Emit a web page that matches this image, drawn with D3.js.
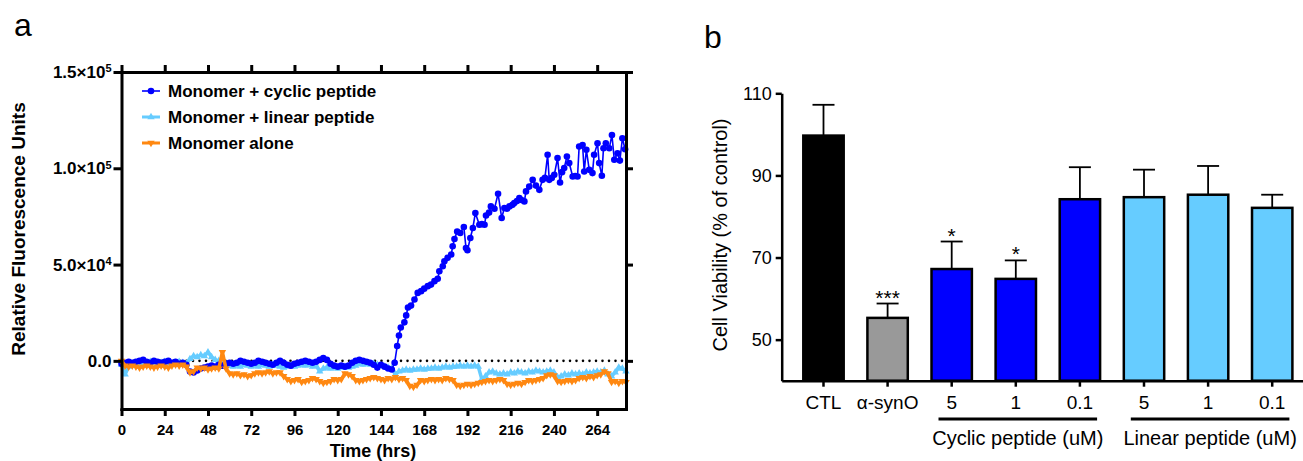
<!DOCTYPE html>
<html>
<head>
<meta charset="utf-8">
<script src="https://cdn.jsdelivr.net/npm/d3@7"></script>
<style>
  body { margin: 0; background: #fff; }
  text { font-family: Arial, "Liberation Sans", Helvetica, sans-serif; }
</style>
</head>
<body>
<script>
// ---------- panel a : fluorescence over time (values in 1000 RFU) ----------
const sampleHours = d3.range(0, 281, 2);

const linearValues = [
  -2, -7, -3, -1.5, -1, -2, -1, -1.5, -0.5, -1,
  -1.5, -1, -0.5, -1, -1.5, -1, -0.5, -1, -1.5, 1,
  2.5, 2, 3, 2.5, 4.5, 2, 0.5, 0, -1, -2,
  -2.5, -3, -2.5, -3, -2, -2.5, -3, -2.5, -3, -2,
  -2.5, -3, -2, -2.5, -3, -3.5, -3, -2.5, -3, -2.5,
  -2, -2.5, -2, -3, -2.5, -5.5, -4, -3.5, -4, -3.5,
  -4, -3.5, -3, -3.5, -3, -2.5, -1.5, -2, -1.5, -2,
  -1.5, -2, -2.5, -3, -3.5, -4, -7, -5.5, -5, -4.5,
  -5, -4.5, -4.5, -4, -4.5, -4, -4, -3.5, -4, -3.5,
  -3, -3.5, -3, -3, -2.5, -3, -2.5, -3, -2.5, -3,
  -9.5, -8, -6, -5.5, -6.5, -7, -6.5, -7, -6, -6.5,
  -5.5, -6, -6.5, -5.5, -6, -5, -5.5, -6, -5.5, -5,
  -6, -8.5, -8, -7, -7.5, -6.5, -7, -6.5, -7, -6,
  -6.5, -6, -5.5, -6, -5, -7, -8, -6, -3.5, -4,
  -5.5
];

const aloneValues = [
  0, -2.5, -3, -2.5, -3, -3.5, -3, -2.5, -3, -3.5,
  -3, -2.5, -3, -3.5, -2.5, -2, -2.5, -2, -3, -6,
  -5.5, -3.5, -4, -3.5, -4.5, -4, -3.5, -4, 4.5, -4,
  -6.5, -7, -6.5, -7.5, -7, -8, -7.5, -6.5, -6, -6.5,
  -6, -5.5, -6.5, -6, -6, -8, -9.5, -10.5, -10, -9.5,
  -11, -10.5, -10, -9, -9.5, -10.5, -11.5, -11, -10.5, -9.5,
  -10, -9.5, -6.5, -7, -8, -10, -10.5, -10, -9.5, -9,
  -8.5, -9, -9.5, -10, -9, -9.5, -8.5, -9.5, -9, -10,
  -13, -13.5, -12.5, -10, -10.5, -10, -9.5, -10, -9.5, -10,
  -9, -9.5, -10, -12.5, -13, -12.5, -12, -12.5, -12, -11.5,
  -11, -10.5, -10, -10.5, -10, -9.5, -10, -12, -12.5, -12,
  -11.5, -12, -11, -10, -10.5, -10, -9.5, -9, -7.5, -7,
  -7.5, -10.5, -11, -10.5, -10, -10.5, -10, -9, -8.5, -9,
  -8, -8.5, -7.5, -7, -5.5, -6.5, -11, -10.5, -11.5, -10.5,
  -11
];

// cyclic peptide: every 2 h up to 150 h, then the individual readings of the rise
const cyclicHours = d3.range(0, 151, 2).concat([
  151.6, 153, 154, 155, 157, 158, 159, 160.7, 162.6, 164.4,
  166.3, 168, 170, 171.8, 173.7, 175.5, 176.4, 178.3, 179.2, 181,
  183, 183.8, 184.8, 186.3, 188, 190, 191.2, 192, 193.6, 195,
  196.4, 198.6, 200, 201.5, 202.3, 204, 205, 207, 209, 211,
  212.5, 214, 215.3, 217, 218, 219.5, 220.8, 222, 223.6, 224.5,
  226.3, 228.2, 230, 231.9, 233.7, 235, 236.5, 237.4, 238.8, 240.2,
  242, 243.4, 244.5, 245.7, 247.2, 248.5, 250.4, 251.8, 253.1, 254,
  255.9, 256.8, 258, 259.6, 261.4, 262.3, 264.2, 265.1, 266.6, 267.5,
  268.8, 270.7, 272.2, 273.5, 275.3, 276.6, 278, 279.5
]);
const cyclicValues = [
  -1.5, -1, -0.5, -1, -0.5, 0, 0.5, -0.5, -1, 0,
  -0.5, -1, -0.5, 0, -1, -0.5, -1.5, -1, -2, -5.5,
  -6, -5, -4, -3.5, -3, -2.5, -3, -2, -2.5, -1.5,
  -1, -1.5, -1, 0, -0.5, -1, -1.5, -1, 0, -0.5,
  -1, -1.5, -2, -1, 0, -1, -2, -2.5, -1.5, -1,
  -0.5, 0, -0.5, -1, -0.5, 0.5, 1.5, 0.5, -1.5, -2.5,
  -3, -2.5, -3, -2.5, -1, 0, 0.5, 0, -0.5, -1,
  -2, -3.5, -2, -3, -4, -4.5,
  -1, 7.7, 13.2, 17.3, 20, 23.6, 27.7, 28.7, 31.9, 35.3,
  36.2, 37.5, 38.8, 39.6, 41.4, 42.6, 46.5, 49.1, 51.7, 53.5,
  55.2, 59.5, 63.3, 67.2, 66.4, 69.5, 58.6, 57.4, 63.8, 69,
  76.8, 70.7, 71, 70.7, 75.5, 77, 80.2, 79, 86.8, 74.2,
  79.4, 79, 80.2, 81, 82, 83, 84.5, 83.5, 82.8, 88,
  90.5, 94, 91, 88.8, 94, 95, 107, 94, 95, 96.6,
  105.3, 92.6, 98, 100.1, 106.1, 102.7, 95.7, 96, 95.7, 111.3,
  112.1, 98.3, 109.6, 99.2, 97.5, 107, 113, 102.7, 96.1, 110.4,
  113, 110.4, 117.3, 104.4, 107.8, 104, 115.6, 109.9
];

const seriesNames = ["Monomer + cyclic peptide", "Monomer + linear peptide", "Monomer alone"];
const seriesColors = ["#0000ff", "#66ccff", "#ff8811"];
const timeTicks = [0, 24, 48, 72, 96, 120, 144, 168, 192, 216, 240, 264];
const rfuTicks = [0, 50, 100, 150];
const rfuTickLabels = [["0.0", ""], ["5.0×10", "4"], ["1.0×10", "5"], ["1.5×10", "5"]];

// ---------- panel b : cell viability ----------
const groups = ["CTL", "aSynO", "C5", "C1", "C01", "L5", "L1", "L01"];
const groupLabels = ["CTL", "α-synO", "5", "1", "0.1", "5", "1", "0.1"];
const viability = [99.7, 55.3, 67.2, 64.8, 84.2, 84.7, 85.3, 82.1];
const viabilityErr = [7.5, 3.5, 6.7, 4.5, 7.8, 6.7, 7.0, 3.2];
const barColors = ["#000000", "#999999", "#0000ff", "#0000ff", "#0000ff", "#66ccff", "#66ccff", "#66ccff"];
const stars = ["", "***", "*", "*", "", "", "", ""];
const viabilityTicks = [50, 70, 90, 110];
const peptideGroups = [
  {label: "Cyclic peptide (uM)", first: "C5", last: "C01"},
  {label: "Linear peptide (uM)", first: "L5", last: "L01"}
];

const width = 1303;
const height = 461;

const svg = d3.select('body').append('svg')
    .attr('width', width)
    .attr('height', height);

// ================= panel a =================
const x = d3.scaleLinear().domain([0, 280]).range([121.5, 626]);
const y = d3.scaleLinear().domain([-25, 150]).range([409, 72]);

const ga = svg.append('g');

// dotted zero line
ga.append('line')
    .attr('x1', x(0)).attr('x2', x(280))
    .attr('y1', y(0)).attr('y2', y(0))
    .attr('stroke', '#000')
    .attr('stroke-width', 2.6)
    .attr('stroke-linecap', 'round')
    .attr('stroke-dasharray', '0 6.5');

const line = d3.line().x(d => x(d[0])).y(d => y(d[1]));

const linearPts = sampleHours.map((h, i) => [h, linearValues[i]]);
const alonePts = sampleHours.map((h, i) => [h, aloneValues[i]]);
const cyclicPts = cyclicHours.map((h, i) => [h, cyclicValues[i]]);

const tri = d3.symbol(d3.symbolTriangle, 24);

// linear peptide
ga.append('path').datum(linearPts)
    .attr('d', line)
    .attr('fill', 'none')
    .attr('stroke', seriesColors[1])
    .attr('stroke-width', 3.5)
    .attr('stroke-linejoin', 'round');
ga.append('g').selectAll('path')
    .data(linearPts)
    .join('path')
    .attr('transform', d => `translate(${x(d[0])},${y(d[1])})`)
    .attr('d', tri)
    .attr('fill', seriesColors[1]);

// cyclic peptide
ga.append('path').datum(cyclicPts)
    .attr('d', line)
    .attr('fill', 'none')
    .attr('stroke', seriesColors[0])
    .attr('stroke-width', 1.6);
ga.append('g').selectAll('circle')
    .data(cyclicPts)
    .join('circle')
    .attr('cx', d => x(d[0]))
    .attr('cy', d => y(d[1]))
    .attr('r', 3.3)
    .attr('fill', seriesColors[0]);

// monomer alone
ga.append('path').datum(alonePts)
    .attr('d', line)
    .attr('fill', 'none')
    .attr('stroke', seriesColors[2])
    .attr('stroke-width', 3.5)
    .attr('stroke-linejoin', 'round');
ga.append('g').selectAll('path')
    .data(alonePts)
    .join('path')
    .attr('transform', d => `translate(${x(d[0])},${y(d[1])}) rotate(180)`)
    .attr('d', tri)
    .attr('fill', seriesColors[2]);

// axes (frame on all four sides)
const thick = g => {
    g.select('.domain').attr('stroke-width', 3).attr('stroke-linecap', 'square');
    g.selectAll('.tick line').attr('stroke-width', 3);
};

ga.append('g')
    .attr('transform', `translate(0,${y.range()[0]})`)
    .call(d3.axisBottom(x).tickValues(timeTicks).tickSize(7).tickSizeOuter(0).tickPadding(8))
    .call(thick)
    .call(g => g.selectAll('.tick text').attr('font-size', 15).attr('font-weight', 'bold').attr('font-family', null));

ga.append('g')
    .attr('transform', `translate(0,${y.range()[1]})`)
    .call(d3.axisTop(x).tickValues(timeTicks).tickSize(7).tickSizeOuter(0).tickFormat(''))
    .call(thick);

ga.append('g')
    .attr('transform', `translate(${x.range()[1]},0)`)
    .call(d3.axisRight(y).tickValues(rfuTicks).tickSize(7).tickSizeOuter(0).tickFormat(''))
    .call(thick);

ga.append('g')
    .attr('transform', `translate(${x.range()[0]},0)`)
    .call(d3.axisLeft(y).tickValues(rfuTicks).tickSize(8).tickSizeOuter(0).tickPadding(2))
    .call(thick)
    .call(g => g.selectAll('.tick text')
        .attr('font-size', 17).attr('font-weight', 'bold').attr('font-family', null)
        .each(function(d, i) {
            const t = d3.select(this).text(rfuTickLabels[i][0]);
            if (rfuTickLabels[i][1]) {
                t.append('tspan').attr('dy', '-0.5em').attr('font-size', 11).text(rfuTickLabels[i][1]);
            }
        }));

// legend
const legend = ga.append('g').attr('transform', 'translate(142,91)');
seriesNames.forEach((name, i) => {
    const row = legend.append('g').attr('transform', `translate(0,${i * 26})`);
    row.append('line').attr('x1', 0).attr('x2', 18)
        .attr('stroke', seriesColors[i]).attr('stroke-width', i === 0 ? 1.6 : 3);
    if (i === 0) {
        row.append('circle').attr('cx', 9).attr('r', 3.3).attr('fill', seriesColors[0]);
    } else {
        row.append('path').attr('d', tri)
            .attr('transform', i === 2 ? 'translate(9,0) rotate(180)' : 'translate(9,0)')
            .attr('fill', seriesColors[i]);
    }
    row.append('text').attr('x', 26).attr('dy', '0.35em')
        .attr('font-size', 17).attr('font-weight', 'bold')
        .text(name);
});

// titles
ga.append('text')
    .attr('transform', 'translate(25,229) rotate(-90)')
    .attr('text-anchor', 'middle')
    .attr('font-size', 19).attr('font-weight', 'bold')
    .text('Relative Fluorescence Units');

ga.append('text')
    .attr('x', 373).attr('y', 457)
    .attr('text-anchor', 'middle')
    .attr('font-size', 18).attr('font-weight', 'bold')
    .text('Time (hrs)');

svg.append('text').attr('x', 14).attr('y', 36).attr('font-size', 32).text('a');

// ================= panel b =================
const xb = d3.scaleBand().domain(groups).range([781.7, 1314]).paddingInner(0.37).paddingOuter(0.337);
const yb = d3.scaleLinear().domain([40, 110]).range([380.7, 93.3]);

const gb = svg.append('g');

// error bars (upper only)
const errs = gb.append('g').selectAll('g')
    .data(groups)
    .join('g')
    .attr('transform', d => `translate(${xb(d) + xb.bandwidth() / 2},0)`);
errs.append('line')
    .attr('y1', (d, i) => yb(viability[i]))
    .attr('y2', (d, i) => yb(viability[i] + viabilityErr[i]))
    .attr('stroke', '#000').attr('stroke-width', 1.8);
errs.append('line')
    .attr('x1', -11).attr('x2', 11)
    .attr('y1', (d, i) => yb(viability[i] + viabilityErr[i]))
    .attr('y2', (d, i) => yb(viability[i] + viabilityErr[i]))
    .attr('stroke', '#000').attr('stroke-width', 1.8);
errs.append('text')
    .attr('y', (d, i) => yb(viability[i] + viabilityErr[i]) + 1)
    .attr('text-anchor', 'middle')
    .attr('font-size', 21)
    .text((d, i) => stars[i]);

// bars
gb.append('g').selectAll('rect')
    .data(groups)
    .join('rect')
    .attr('x', d => xb(d))
    .attr('y', (d, i) => yb(viability[i]))
    .attr('width', xb.bandwidth())
    .attr('height', (d, i) => yb(40) - yb(viability[i]))
    .attr('fill', (d, i) => barColors[i])
    .attr('stroke', '#000')
    .attr('stroke-width', 2.5);

const thin = g => {
    g.select('.domain').attr('stroke-width', 2.5);
    g.selectAll('.tick line').attr('stroke-width', 2.5);
};

gb.append('g')
    .attr('transform', `translate(${xb.range()[0]},0)`)
    .call(d3.axisLeft(yb).tickValues(viabilityTicks).tickSize(6).tickSizeOuter(0).tickPadding(4))
    .call(thin)
    .call(g => g.selectAll('.tick text').attr('font-size', 18).attr('font-family', null));

gb.append('g')
    .attr('transform', `translate(0,${yb.range()[0]})`)
    .call(d3.axisBottom(xb).tickFormat((d, i) => groupLabels[i]).tickSize(6).tickSizeOuter(0).tickPadding(9))
    .call(thin)
    .call(g => g.selectAll('.tick text').attr('font-size', 19).attr('font-family', null));

// peptide group brackets
peptideGroups.forEach(p => {
    const x1 = xb(p.first) + 7;
    const x2 = xb(p.last) + xb.bandwidth() - 3;
    gb.append('line')
        .attr('x1', x1).attr('x2', x2)
        .attr('y1', 419).attr('y2', 419)
        .attr('stroke', '#000').attr('stroke-width', 3);
    gb.append('text')
        .attr('x', (x1 + x2) / 2).attr('y', 445)
        .attr('text-anchor', 'middle')
        .attr('font-size', 20)
        .text(p.label);
});

gb.append('text')
    .attr('transform', 'translate(727,235) rotate(-90)')
    .attr('text-anchor', 'middle')
    .attr('font-size', 20)
    .text('Cell Viability (% of control)');

svg.append('text').attr('x', 704).attr('y', 48).attr('font-size', 32).text('b');
</script>
</body>
</html>
